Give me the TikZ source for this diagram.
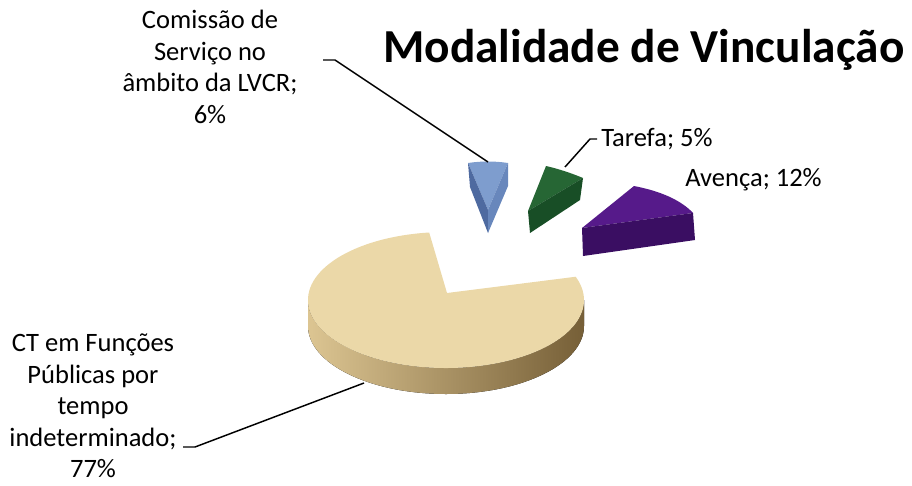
\documentclass[tikz,border=0pt]{standalone}
\usepackage{fontspec}
\setmainfont{Carlito}
\usetikzlibrary{positioning}

\definecolor{woodTop}{RGB}{235,216,168}
\definecolor{woodSideL}{RGB}{220,197,146}
\definecolor{woodSideD}{RGB}{118,95,55}
\definecolor{blueTop}{RGB}{126,157,206}
\definecolor{blueMid}{RGB}{104,135,188}
\definecolor{blueDark}{RGB}{78,106,160}
\definecolor{greenTop}{RGB}{38,102,52}
\definecolor{greenDark}{RGB}{24,78,38}
\definecolor{purpleTop}{RGB}{86,26,138}
\definecolor{purpleDark}{RGB}{58,14,98}

\begin{document}
\begin{tikzpicture}[x=0.75pt,y=0.75pt,yscale=-1,xscale=1,
  lbl/.style={inner sep=0pt, font=\fontsize{19.9}{23.6}\selectfont, align=center},
  leader/.style={draw=black, line width=1.1pt}]
\useasboundingbox (0,0) rectangle (912,485);

%Shape: side of the big slice
\fill [left color=woodSideL, right color=woodSideD]  (308,300) arc[start angle=180, end angle=0, x radius=138, y radius=68] -- (584,326) arc[start angle=0, end angle=180, x radius=138, y radius=68] -- cycle ;
%Shape: top of the big slice
\fill [woodTop]  (447,293) -- ([shift={(446,300)}]-97:138 and 68) arc[start angle=-97, end angle=-380, x radius=138, y radius=68] -- cycle ;

%Shape: blue slice
\fill [blueTop]  (468,163) .. controls (481,161) and (495,161) .. (508,163) -- (488,210) -- cycle ;
\fill [blueDark]  (468,163) -- (488,210) -- (488,233) -- (470,187) -- cycle ;
\fill [blueMid]  (508,163) -- (508,186) -- (488,233) -- (488,210) -- cycle ;
%Shape: green slice
\fill [greenTop]  (546,166) .. controls (559,169) and (571,173) .. (583,178) -- (528,211) -- cycle ;
\fill [greenDark]  (583,178) -- (580,200) -- (530,233) -- (528,211) -- cycle ;
%Shape: purple slice
\fill [purpleTop]  (582,228) -- (634,186) .. controls (660,191) and (681,200) .. (693,213) -- cycle ;
\fill [purpleDark]  (582,228) -- (693,213) -- (695,240) -- (583,256) -- cycle ;

% Leader end points
\coordinate (comKnee) at (323,60);
\coordinate (comBend) at (335,60);
\coordinate (comTip) at (488,162);
\coordinate (tarKnee) at (597,139);
\coordinate (tarBend) at (590,139);
\coordinate (tarTip) at (565,167);
\coordinate (ctKnee) at (183,447);
\coordinate (ctBend) at (195,447);
\coordinate (ctTip) at (364,383);

%Straight Lines
\draw [leader]  (comKnee) -- (comBend) -- (comTip) ;
\draw [leader]  (tarKnee) -- (tarBend) -- (tarTip) ;
\draw [leader]  (ctKnee) -- (ctBend) -- (ctTip) ;

% Text Node
\node [anchor=base west, inner sep=0pt, font=\fontsize{35.5}{40}\selectfont\bfseries] (title) at (383,62) {Modalidade de Vinculação};
% Text Node
\node [lbl] (comLbl) at (210,67) {Comissão de\\Serviço no\\âmbito da LVCR;\\6\%};
% Text Node
\node [lbl, anchor=base west] (tarLbl) at (601,146) {Tarefa; 5\%};
% Text Node
\node [lbl, anchor=base west] (aveLbl) at (685,186) {Avença; 12\%};
% Text Node
\node [lbl] (ctLbl) at (93,406) {CT em Funções\\Públicas por\\tempo\\indeterminado;\\77\%};

\end{tikzpicture}
\end{document}
